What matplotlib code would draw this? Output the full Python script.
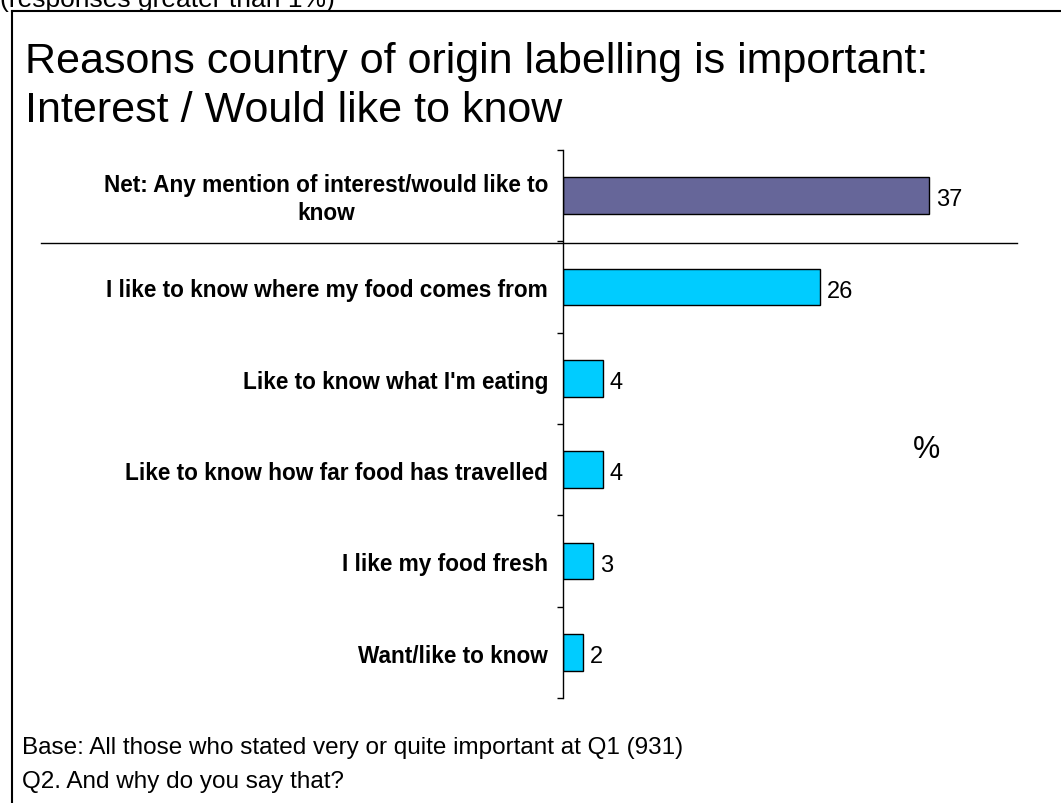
import matplotlib.pyplot as plt
from matplotlib.lines import Line2D

plt.rcParams['font.family'] = ['Liberation Sans', 'DejaVu Sans']

categories = [
    "Net: Any mention of interest/would like to\nknow",
    "I like to know where my food comes from",
    "Like to know what I'm eating",
    "Like to know how far food has travelled",
    "I like my food fresh",
    "Want/like to know",
]
values = [37, 26, 4, 4, 3, 2]
colors = ["#666699", "#00CCFF", "#00CCFF", "#00CCFF", "#00CCFF", "#00CCFF"]

W, H = 1061, 804
fig = plt.figure(figsize=(W / 100, H / 100), dpi=100)

def fx(px):
    return px / W

def fy(py):
    return 1 - py / H

ax = fig.add_axes([fx(563), fy(699), fx(1017) - fx(563), fy(151) - fy(699)])

pos = list(range(len(categories)))
ax.barh(pos, values, height=0.4, color=colors, edgecolor="black", linewidth=1)
ax.set_ylim(len(categories) - 0.5, -0.5)
ax.set_xlim(0, 45.9)

for p, v in zip(pos, values):
    ax.text(v + 0.7, p + 0.04, str(v), va="center", ha="left", fontsize=17)

for p, c in zip(pos, categories):
    ax.text(-1.5, p + 0.03, c, va="center", ha="right", fontsize=16.3,
            fontweight="bold", multialignment="center", linespacing=1.25)

for s in ["top", "right", "bottom"]:
    ax.spines[s].set_visible(False)
ax.spines["left"].set_linewidth(1)
ax.set_xticks([])
ax.set_yticks([i - 0.5 for i in range(len(categories) + 1)])
ax.set_yticklabels([])
ax.tick_params(axis="y", direction="out", length=4.5, width=1)

# separator below the net row
ax.plot([-1.15, 1.0], [0.52, 0.52], transform=ax.get_yaxis_transform(),
        color="black", linewidth=1, clip_on=False)

ax.text(0.771, 0.455, "%", transform=ax.transAxes, fontsize=22,
        ha="left", va="center")

# outer frame
fig.add_artist(Line2D([fx(12), fx(12)], [fy(12), 0], color="black", linewidth=1.5))
fig.add_artist(Line2D([fx(12), 1], [fy(12), fy(12)], color="black", linewidth=1.5))

fig.text(fx(0), fy(7), "(responses greater than 1%)", fontsize=19,
         ha="left", va="baseline")
fig.text(fx(25), fy(73), "Reasons country of origin labelling is important:",
         fontsize=31, ha="left", va="baseline")
fig.text(fx(25), fy(122), "Interest / Would like to know",
         fontsize=31, ha="left", va="baseline")

fig.text(fx(22), fy(748), "Base: All those who stated very or quite important at Q1 (931)",
         fontsize=17.5, ha="left", va="center")
fig.text(fx(22), fy(782), "Q2. And why do you say that?",
         fontsize=17.5, ha="left", va="center")

fig.savefig("out.png", dpi=100)
